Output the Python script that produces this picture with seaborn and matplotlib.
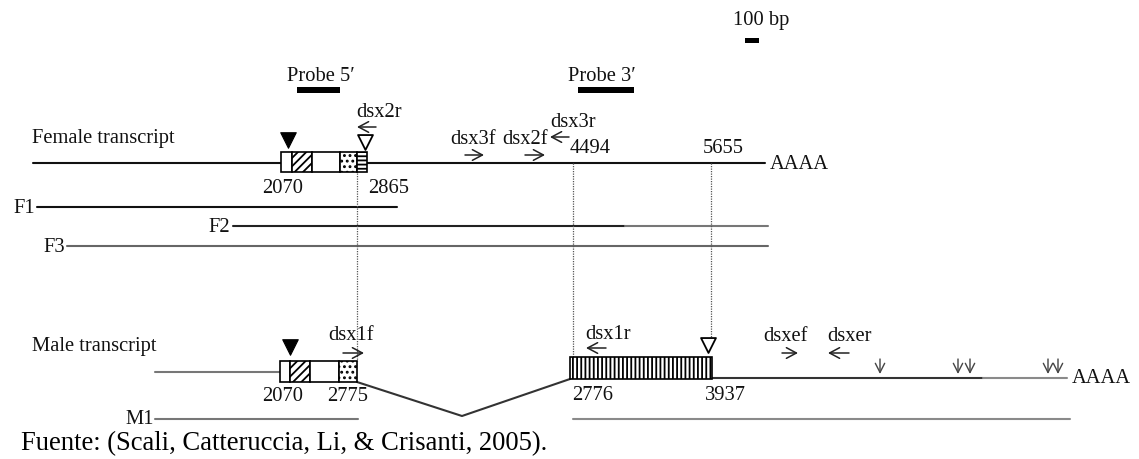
import numpy as np
import pandas as pd
import matplotlib
matplotlib.use("Agg")
import matplotlib.pyplot as plt
from matplotlib.patches import Rectangle
import seaborn as sns

sns.set_theme(style="white")
plt.rcParams['font.family'] = ['Liberation Serif', 'DejaVu Serif']
plt.rcParams['hatch.linewidth'] = 1.3
plt.rcParams['hatch.color'] = 'black'

W, H = 1139, 459

# ---- transcript / clone lines (schematic units = pixels of the original) ----
line_names = ['female', 'F1', 'F2a', 'F2b', 'F3', 'male_left', 'male_right_a',
              'male_right_b', 'M1', 'M2']
line_x0 = [33, 37, 233, 625, 67, 155, 712, 983, 155, 573]
line_x1 = [765, 397, 625, 768, 768, 280, 983, 1067, 358, 1070]
line_y0 = [163, 207, 226, 226, 246, 372, 378, 378, 419, 419]
line_colors = ['#111111', '#111111', '#222222', '#777777', '#666666', '#777777',
               '#333333', '#8a8a8a', '#777777', '#8a8a8a']

# splice junction (male)
splice_x = [357, 462, 570]
splice_y = [382, 416, 379]

# exon boxes
fem_bounds = [281, 292, 312, 340, 357, 367]
fem_hatch = [None, '////', None, '...', '----']
fem_top, fem_bot = 152, 172
male_bounds = [280, 290, 310, 339, 357]
male_hatch = [None, '////', None, '...']
male_top, male_bot = 361, 382
male2_bounds = [570, 712]
male2_hatch = ['||||']
male2_top, male2_bot = 357, 379

# probes and scale bar
bar_x0 = [297, 578, 745]
bar_x1 = [340, 634, 759]
bar_y0 = [87, 87, 38]
bar_y1 = [93, 93, 43]

# triangles
filled_tri_x = [288, 290]
filled_tri_y = [139.5, 347]
open_tri_x = [365, 708]
open_tri_y = [142, 344.5]

# dotted guide lines
guide_x = [357, 573, 711]
guide_y0 = [173, 163, 163]
guide_y1 = [361, 357, 337]

# primer arrows (start -> end)
primer_x0 = [376, 569, 465, 525, 343, 606, 782, 849]
primer_x1 = [357, 550, 484, 545, 364, 586, 798, 828]
primer_y = [127, 137, 155, 155, 353, 348, 353, 353]

# polyadenylation down arrows
polya_x = [880, 958, 970, 1048, 1058]
polya_y0, polya_y1 = 359, 374

# labels
label_text = ['Female transcript', 'Probe 5\u2032', 'Probe 3\u2032', '100 bp',
              'dsx2r', 'dsx3r', 'dsx3f', 'dsx2f', '4494', '5655',
              '2070', '2865', 'F1', 'F2', 'F3', 'AAAA',
              'Male transcript', 'dsx1f', '2070', '2775', 'M1',
              'dsx1r', 'dsxef', 'dsxer', '2776', '3937', 'AAAA']
label_x = [32, 287, 568, 733,
           356, 550, 450, 502, 570, 703,
           262, 368, 13, 208, 43, 770,
           32, 328, 262, 327, 125,
           585, 763, 827, 572, 705, 1072]
label_y = [143, 81, 81, 25,
           117, 127, 144, 144, 153, 153,
           193, 193, 213, 232, 252, 169,
           351, 340, 401, 401, 424,
           339, 341, 341, 400, 400, 383]
source_text = 'Fuente: (Scali, Catteruccia, Li, & Crisanti, 2005).'

fig = plt.figure(figsize=(W / 100, H / 100), dpi=100)
ax = fig.add_axes([0, 0, 1, 1])

# lines via seaborn
rows = []
for n, a, b, y in zip(line_names, line_x0, line_x1, line_y0):
    rows.append((n, a, y))
    rows.append((n, b, y))
for x, y in zip(splice_x, splice_y):
    rows.append(('splice', x, y))
df = pd.DataFrame(rows, columns=['seg', 'x', 'y'])
palette = dict(zip(line_names, line_colors))
palette['splice'] = '#333333'
sns.lineplot(data=df, x='x', y='y', units='seg', hue='seg', palette=palette,
             estimator=None, sort=False, linewidth=1.5, legend=False, ax=ax,
             zorder=1)
ax.set_xlim(0, W)
ax.set_ylim(H, 0)
ax.axis('off')


def draw_box(bounds, hatches, top, bot):
    for a, b, h in zip(bounds[:-1], bounds[1:], hatches):
        ax.add_patch(Rectangle((a, top), b - a, bot - top, facecolor='white',
                               edgecolor='black', lw=1.2, hatch=h, zorder=3))


draw_box(fem_bounds, fem_hatch, fem_top, fem_bot)
draw_box(male_bounds, male_hatch, male_top, male_bot)
draw_box(male2_bounds, male2_hatch, male2_top, male2_bot)

for a, b, y0, y1 in zip(bar_x0, bar_x1, bar_y0, bar_y1):
    ax.add_patch(Rectangle((a, y0), b - a, y1 - y0, facecolor='black',
                           edgecolor='none', zorder=3))

ax.vlines(guide_x, guide_y0, guide_y1, colors='#555555', linestyles=(0, (1, 1)),
          lw=0.9, zorder=2)

sns.scatterplot(x=filled_tri_x, y=filled_tri_y, marker='v', s=125, color='black',
                edgecolor='black', linewidth=0.8, ax=ax, zorder=4)
ax.scatter(open_tri_x, open_tri_y, marker='v', s=115, facecolor='white',
           edgecolor='black', linewidth=1.3, zorder=4)

for a, b, y in zip(primer_x0, primer_x1, primer_y):
    ax.annotate('', xy=(b, y), xytext=(a, y),
                arrowprops=dict(arrowstyle='->,head_length=0.6,head_width=0.32',
                                color='#222222', lw=1.1, shrinkA=0, shrinkB=0),
                zorder=4)
for x in polya_x:
    ax.annotate('', xy=(x, polya_y1), xytext=(x, polya_y0),
                arrowprops=dict(arrowstyle='->,head_length=0.55,head_width=0.28',
                                color='#444444', lw=1.0, shrinkA=0, shrinkB=0),
                zorder=4)

for t, x, y in zip(label_text, label_x, label_y):
    ax.text(x, y, t, fontsize=14.8, ha='left', va='baseline', color='#111111',
            zorder=5)
ax.text(21, 450, source_text, fontsize=19.2, ha='left', va='baseline',
        color='black', zorder=5)

fig.savefig('out.png', dpi=100)
